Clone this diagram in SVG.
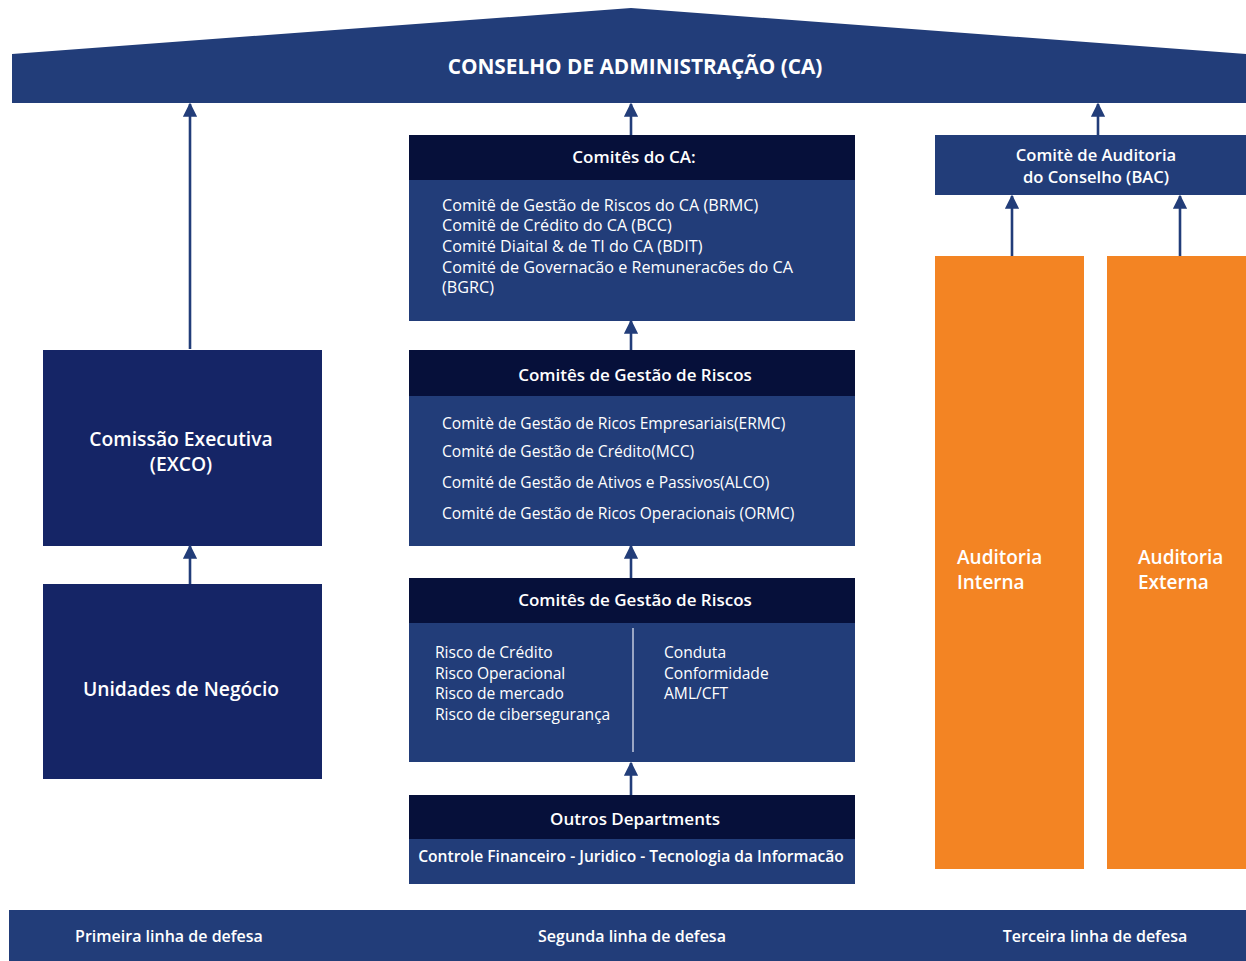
<svg xmlns="http://www.w3.org/2000/svg" width="1246" height="961" viewBox="0 0 1246 961">
<defs>
<marker id="ah" viewBox="0 0 10 10" refX="9" refY="5" markerWidth="5.5" markerHeight="5.5" orient="auto-start-reverse" markerUnits="strokeWidth">
<path d="M0,0 L10,5 L0,10 Z" fill="#223d79"/>
</marker>
<style>
.mid{fill:#223d79}
.dark{fill:#06103a}
.org{fill:#f38423}
.exec{fill:#152566}
text{font-family:"Open Sans",Lato,"Liberation Sans",sans-serif;fill:#fff}
.h{font-size:17px;font-weight:600;text-anchor:middle}
.b{font-size:15.6px}
.big{font-size:19.3px;font-weight:600;text-anchor:middle}
.aud{font-size:19px;font-weight:600}
.foot{font-size:16px;font-weight:600;text-anchor:middle}
.conn line{stroke:#223d79;stroke-width:2.6;marker-start:url(#ah)}
</style>
</defs>
<rect width="1246" height="961" fill="#fff"/>
<g id="ca">
<polygon class="mid" points="12,54 631,8 1246,54 1246,103 12,103"/>
<text class="big" x="635" y="74" style="font-size:20.8px;font-weight:700">CONSELHO DE ADMINISTRAÇÃO (CA)</text>
</g>
<g id="exco">
<rect class="exec" x="43" y="350" width="279" height="196"/>
<text class="big" x="181" y="446">Comissão Executiva</text>
<text class="big" x="181" y="471">(EXCO)</text>
</g>
<g id="unidades">
<rect class="exec" x="43" y="584" width="279" height="195"/>
<text class="big" x="181" y="696">Unidades de Negócio</text>
</g>
<g id="comites-ca">
<rect class="mid" x="409" y="135" width="446" height="186"/>
<rect class="dark" x="409" y="135" width="446" height="45"/>
<text class="h" x="634" y="163">Comitês do CA:</text>
<text class="b" x="442" y="211" style="font-size:16.2px">Comitê de Gestão de Riscos do CA (BRMC)</text>
<text class="b" x="442" y="231" style="font-size:16.2px">Comitê de Crédito do CA (BCC)</text>
<text class="b" x="442" y="252" style="font-size:16.2px">Comité Diaital &amp; de TI do CA (BDIT)</text>
<text class="b" x="442" y="273" style="font-size:16.2px">Comité de Governacão e Remuneracões do CA</text>
<text class="b" x="442" y="293" style="font-size:16.2px">(BGRC)</text>
</g>
<g id="comites-gestao-1">
<rect class="mid" x="409" y="350" width="446" height="196"/>
<rect class="dark" x="409" y="350" width="446" height="46"/>
<text class="h" x="635" y="381">Comitês de Gestão de Riscos</text>
<text class="b" x="442" y="429">Comitè de Gestão de Ricos Empresariais(ERMC)</text>
<text class="b" x="442" y="457">Comité de Gestão de Crédito(MCC)</text>
<text class="b" x="442" y="488">Comité de Gestão de Ativos e Passivos(ALCO)</text>
<text class="b" x="442" y="519">Comité de Gestão de Ricos Operacionais (ORMC)</text>
</g>
<g id="comites-gestao-2">
<rect class="mid" x="409" y="578" width="446" height="184"/>
<rect class="dark" x="409" y="578" width="446" height="45"/>
<text class="h" x="635" y="606">Comitês de Gestão de Riscos</text>
<line x1="633" y1="628" x2="633" y2="752" stroke="#9aa6c4" stroke-width="2"/>
<text class="b" x="435" y="658">Risco de Crédito</text>
<text class="b" x="435" y="679">Risco Operacional</text>
<text class="b" x="435" y="699">Risco de mercado</text>
<text class="b" x="435" y="720">Risco de cibersegurança</text>
<text class="b" x="664" y="658">Conduta</text>
<text class="b" x="664" y="679">Conformidade</text>
<text class="b" x="664" y="699">AML/CFT</text>
</g>
<g id="outros">
<rect class="mid" x="409" y="795" width="446" height="89"/>
<rect class="dark" x="409" y="795" width="446" height="44"/>
<text class="h" x="635" y="825">Outros Departments</text>
<text class="h" x="631" y="862" style="font-size:15.6px">Controle Financeiro - Juridico - Tecnologia da Informacão</text>
</g>
<g id="bac">
<rect class="mid" x="935" y="135" width="311" height="60"/>
<text class="h" x="1096" y="161" style="font-size:16.6px">Comitè de Auditoria</text>
<text class="h" x="1096" y="183" style="font-size:16.6px">do Conselho (BAC)</text>
</g>
<g id="auditoria-interna">
<rect class="org" x="935" y="256" width="149" height="613"/>
<text class="aud" x="957" y="564">Auditoria</text>
<text class="aud" x="957" y="589">Interna</text>
</g>
<g id="auditoria-externa">
<rect class="org" x="1107" y="256" width="139" height="613"/>
<text class="aud" x="1138" y="564">Auditoria</text>
<text class="aud" x="1138" y="589">Externa</text>
</g>
<g id="linhas">
<rect class="mid" x="9" y="910" width="1237" height="51"/>
<text class="foot" x="169" y="942">Primeira linha de defesa</text>
<text class="foot" x="632" y="942">Segunda linha de defesa</text>
<text class="foot" x="1095" y="942">Terceira linha de defesa</text>
</g>
<g class="conn">
<line x1="190" y1="104" x2="190" y2="349"/>
<line x1="190" y1="546" x2="190" y2="584"/>
<line x1="631" y1="104" x2="631" y2="135"/>
<line x1="631" y1="321" x2="631" y2="350"/>
<line x1="631" y1="546" x2="631" y2="578"/>
<line x1="631" y1="763" x2="631" y2="795"/>
<line x1="1098" y1="104" x2="1098" y2="135"/>
<line x1="1012" y1="196" x2="1012" y2="256"/>
<line x1="1180" y1="196" x2="1180" y2="256"/>
</g>
</svg>
